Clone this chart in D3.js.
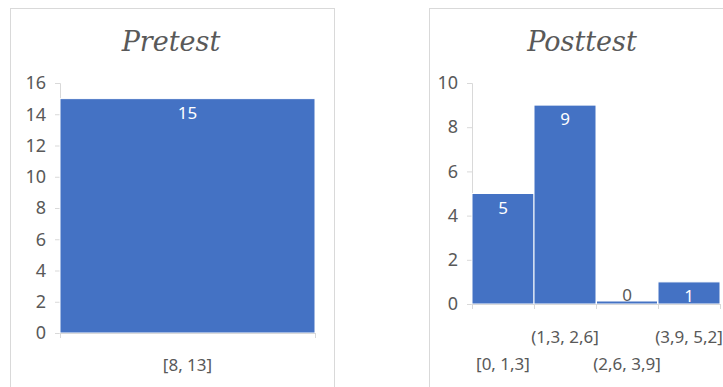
<!DOCTYPE html>
<html>
<head>
<meta charset="utf-8">
<script src="https://cdn.jsdelivr.net/npm/d3@7"></script>
<style>
  html, body { margin: 0; padding: 0; background: #fff; }
  svg { display: block; }
</style>
</head>
<body>
<svg id="chart" width="723" height="387"></svg>
<script>
// ---- data ----
const preTitle = "Pretest";
const preCategories = ["[8, 13]"];
const preValues = [15];
const preTicks = [0, 2, 4, 6, 8, 10, 12, 14, 16];

const postTitle = "Posttest";
const postCategories = ["[0, 1,3]", "(1,3, 2,6]", "(2,6, 3,9]", "(3,9, 5,2]"];
const postValues = [5, 9, 0, 1];
const postTicks = [0, 2, 4, 6, 8, 10];

// ---- style ----
const barColor = "#4472C4";
const textColor = "#595959";
const lineColor = "#d9d9d9";
const font = "'Noto Sans', 'Open Sans', sans-serif";
const titleFont = "'DejaVu Serif', serif";

const svg = d3.select("#chart");

function panel(cfg) {
  const g = svg.append("g");
  // frame
  g.append("rect")
    .attr("x", cfg.frame[0] + 0.5).attr("y", cfg.frame[1] + 0.5)
    .attr("width", cfg.frame[2]).attr("height", cfg.frame[3])
    .attr("fill", "#fff").attr("stroke", lineColor).attr("stroke-width", 1);

  // title
  g.append("text")
    .attr("x", cfg.titleX).attr("y", 51)
    .attr("text-anchor", "middle")
    .attr("font-family", titleFont).attr("font-style", "italic")
    .attr("font-size", 27).attr("fill", textColor)
    .text(cfg.title);

  const x = d3.scaleBand().domain(cfg.categories).range(cfg.xRange).padding(0);
  const y = d3.scaleLinear().domain(cfg.yDomain).range(cfg.yRange);

  // y axis
  const yAxis = d3.axisLeft(y).tickValues(cfg.ticks).tickSize(5).tickPadding(9).tickFormat(d3.format("d"));
  const ya = g.append("g").attr("transform", `translate(${cfg.xRange[0]},0)`).call(yAxis);
  ya.select(".domain").attr("stroke", lineColor);
  ya.selectAll(".tick line").attr("stroke", lineColor);
  ya.selectAll(".tick text").attr("font-family", font).attr("font-size", 18).attr("fill", textColor);

  // bars
  const bars = cfg.categories.map((c, i) => ({ c, v: cfg.values[i] }));
  g.selectAll("rect.bar").data(bars).join("rect")
    .attr("class", "bar")
    .attr("x", d => x(d.c))
    .attr("y", d => y(d.v))
    .attr("width", x.bandwidth())
    .attr("height", d => y(0) - y(d.v))
    .attr("fill", barColor)
    .attr("stroke", "#fff").attr("stroke-width", 1);
  // zero-height bars show as a thin line
  g.selectAll("line.zero").data(bars.filter(d => d.v === 0)).join("line")
    .attr("class", "zero")
    .attr("x1", d => x(d.c) + 1).attr("x2", d => x(d.c) + x.bandwidth() - 1)
    .attr("y1", y(0) - 1.5).attr("y2", y(0) - 1.5)
    .attr("stroke", barColor).attr("stroke-width", 2);

  // x axis
  const xAxis = d3.axisBottom(x).tickSize(0).tickFormat("");
  const xa = g.append("g").attr("transform", `translate(0,${cfg.yRange[0]})`).call(xAxis);
  xa.select(".domain").attr("stroke", lineColor);
  // boundary ticks
  const edges = cfg.categories.map(c => x(c)).concat([cfg.xRange[1]]);
  g.selectAll("line.xtick").data(edges).join("line")
    .attr("class", "xtick")
    .attr("x1", d => d + 0.5).attr("x2", d => d + 0.5)
    .attr("y1", cfg.yRange[0]).attr("y2", cfg.yRange[0] + 5)
    .attr("stroke", lineColor);
  g.selectAll("text.xlab").data(cfg.categories).join("text")
    .attr("class", "xlab")
    .attr("x", d => x(d) + x.bandwidth() / 2)
    .attr("y", (d, i) => cfg.stagger ? (i % 2 === 0 ? 370 : 343) : 371)
    .attr("text-anchor", "middle")
    .attr("font-family", font).attr("font-size", 17).attr("fill", textColor)
    .text(d => d);

  // data labels
  g.selectAll("text.val").data(bars).join("text")
    .attr("class", "val")
    .attr("x", d => x(d.c) + x.bandwidth() / 2)
    .attr("y", d => d.v > 0 ? y(d.v) + 20 : y(0) - 3)
    .attr("text-anchor", "middle")
    .attr("font-family", font).attr("font-size", 17)
    .attr("fill", d => d.v > 0 ? "#fff" : textColor)
    .text(d => d.v);
}

panel({
  frame: [10, 8, 324, 400],
  title: preTitle, titleX: 171,
  categories: preCategories, values: preValues, ticks: preTicks,
  xRange: [60, 315], yDomain: [0, 16], yRange: [333, 83],
  stagger: false
});

panel({
  frame: [429, 8, 320, 400],
  title: postTitle, titleX: 582,
  categories: postCategories, values: postValues, ticks: postTicks,
  xRange: [472, 720], yDomain: [0, 10], yRange: [304, 83],
  stagger: true
});
</script>
</body>
</html>
